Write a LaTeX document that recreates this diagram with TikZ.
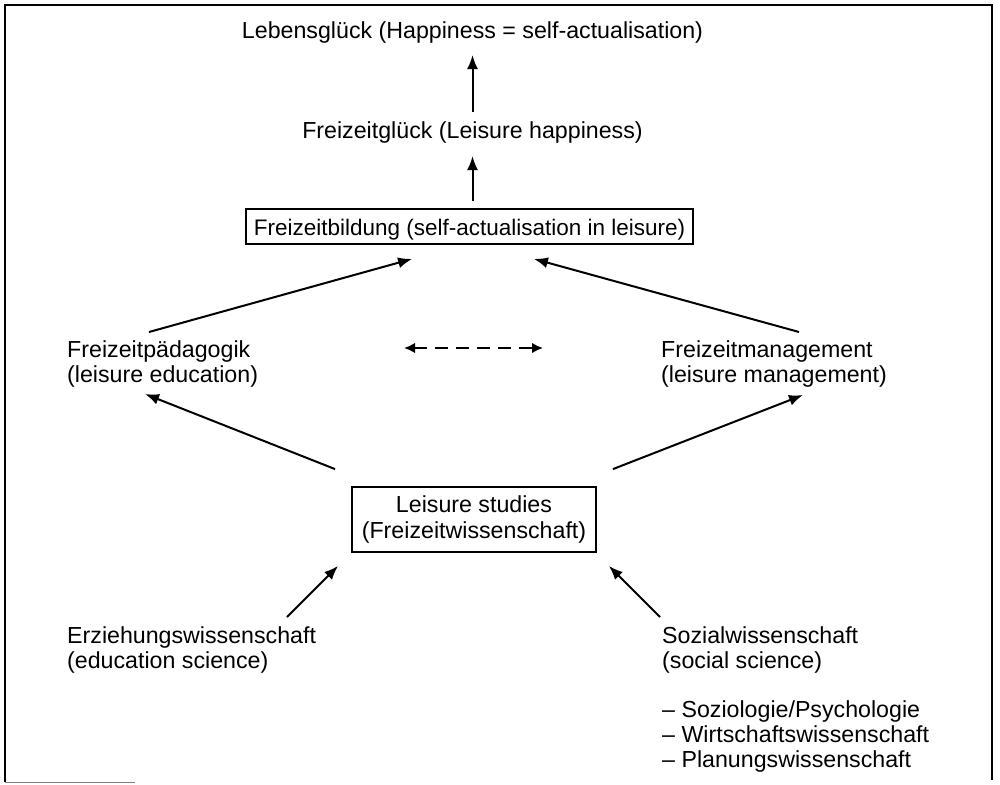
\documentclass[tikz,border=0pt]{standalone}
\usepackage{fontspec}
\setmainfont{Liberation Sans}
\usetikzlibrary{arrows.meta,calc}
\begin{document}
\begin{tikzpicture}[x=1pt,y=-1pt,
  every node/.style={inner sep=0pt,font=\fontsize{23.2}{25}\selectfont},
  lbl/.style={anchor=base west,align=left},
  ttl/.style={anchor=base},
  boxnode/.style={draw,line width=1.8pt,align=center},
  arr/.style={line width=2pt,-{Latex[length=14pt,width=11pt]}},
  darr/.style={line width=2pt,dash pattern=on 13pt off 8pt,{Latex[length=11pt,width=10.5pt]}-{Latex[length=11pt,width=10.5pt]}},
  frameline/.style={line width=2.6pt}]
\fill[white] (0,0) rectangle (1000,784);
\useasboundingbox (0,0) rectangle (1000,784);
% frame
\draw[frameline] (5,782) -- (5,5) -- (992,5) -- (992,780);
\draw[gray,line width=1pt] (5,782) -- (135,782);
% nodes
\node[ttl] (lg) at (472.5,38) {Lebensglück (Happiness = self-actualisation)};
\node[ttl] (fg) at (472.5,138) {Freizeitglück (Leisure happiness)};
\node[boxnode,anchor=base,minimum width=447pt,text height=26pt,text depth=9pt,font=\fontsize{22.5}{25}\selectfont] (fb) at (469.5,235) {Freizeitbildung (self-actualisation in leisure)};
\node[lbl] (fp) at (67,382) {Freizeitpädagogik\\(leisure education)};
\node[lbl] (fm) at (661,382) {Freizeitmanagement\\(leisure management)};
\node[boxnode,minimum width=244pt,minimum height=65pt] (ls) at (474,519.5) {Leisure studies\\[1.5pt](Freizeitwissenschaft)};
\node[lbl] (ez) at (67,668) {Erziehungswissenschaft\\(education science)};
\node[lbl] (sw) at (662,668) {Sozialwissenschaft\\(social science)};
\node[lbl] (swl) at (662,767) {– Soziologie/Psychologie\\– Wirtschaftswissenschaft\\– Planungswissenschaft};
% connectors
\draw[arr] ($(fg.base)+(0,-26)$) -- ($(lg.base)+(0,17)$);
\draw[arr] ($(fb.north)+(3,-7)$) -- ($(fg.base)+(0,18)$);
\draw[arr] ($(fp.base west)+(82,-50)$) -- ($(fb.south west)+(167,14)$);
\draw[arr] ($(fm.base west)+(138,-50)$) -- ($(fb.south east)+(-160,14)$);
\draw[arr] ($(ls.north west)+(-16,-17)$) -- ($(fp.base west)+(78,12)$);
\draw[arr] ($(ls.north east)+(16,-17)$) -- ($(fm.base west)+(142,13)$);
\draw[arr] ($(ez.base west)+(220,-51)$) -- ($(ls.south west)+(-13,13)$);
\draw[arr] ($(sw.base west)+(-2,-51)$) -- ($(ls.south east)+(12,13)$);
\draw[darr] ($(fp.base west)+(337,-34)$) -- ($(fm.base west)+(-118,-34)$);
\end{tikzpicture}
\end{document}
